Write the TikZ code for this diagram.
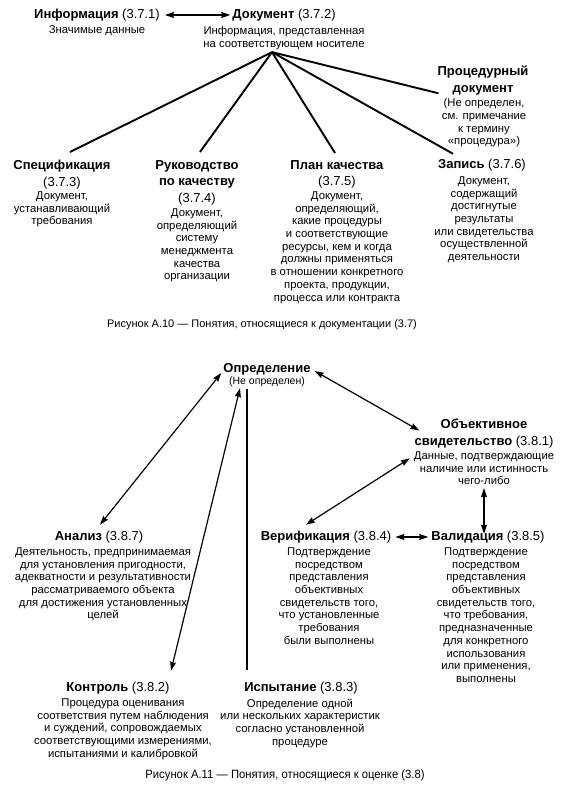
\documentclass[tikz,border=0pt]{standalone}
\usepackage{fontspec}
\setmainfont{Liberation Sans}
\newfontfamily\capnarrow[FakeStretch=0.94]{Liberation Sans}
\usetikzlibrary{arrows.meta}
\begin{document}
\begin{tikzpicture}[x=1pt,y=-1pt,
  ttl/.style={font=\fontsize{13}{16.5}\selectfont, inner sep=0pt, align=center},
  dsc/.style={font=\fontsize{11.3}{12.7}\selectfont, inner sep=0pt, align=center, anchor=north},
  capt/.style={font=\fontsize{11}{13}\selectfont, inner sep=0pt},
  fanline/.style={line width=1.9pt},
  dbl/.style={line width=1.2pt, {Stealth[length=9pt,width=6pt,inset=1pt]}-{Stealth[length=9pt,width=6pt,inset=1pt]}},
  vline/.style={line width=1.4pt}]
\useasboundingbox (0,0) rectangle (570,790);

% ---------- Figure A.10 ----------
\node[ttl] (infoT) at (97,15) {\textbf{Информация} (3.7.1)};
\node[dsc] (infoD) at (97,25.5) {Значимые данные};
\node[ttl] (docT) at (284,15) {\textbf{Документ} (3.7.2)};
\node[dsc] (docD) at (284,26.5) {Информация, представленная\\на соответствующем носителе};
\coordinate (docF) at ([xshift=-12pt,yshift=-2pt]docD.south);

\node[ttl,anchor=north] (procT) at (483,66) {\textbf{Процедурный}\\\textbf{документ}};
\node[dsc] (procD) at (484,98.5) {(Не определен,\\см. примечание\\к термину\\«процедура»)};

\node[ttl,anchor=north] (specT) at (62,160) {\textbf{Спецификация}\\(3.7.3)};
\node[dsc] (specD) at (62,191.5) {Документ,\\устанавливающий\\требования};

\node[ttl,anchor=north] (rukT) at (197,160) {\textbf{Руководство}\\\textbf{по качеству}\\(3.7.4)};
\node[dsc] (rukD) at (197,208.5) {Документ,\\определяющий\\систему\\менеджмента\\качества\\организации};

\node[ttl,anchor=north] (planT) at (337,160) {\textbf{План качества}\\(3.7.5)};
\node[dsc] (planD) at (337,191.5) {Документ,\\определяющий,\\какие процедуры\\и соответствующие\\ресурсы, кем и когда\\должны применяться\\в отношении конкретного\\проекта, продукции,\\процесса или контракта};

\node[ttl] (zapT) at (482,165) {\textbf{Запись} (3.7.6)};
\node[dsc] (zapD) at (484,176.5) {Документ,\\содержащий\\достигнутые\\результаты\\или свидетельства\\осуществленной\\деятельности};

\node[capt] (cap1) at (262,325) {Рисунок А.10 — Понятия, относящиеся к документации (3.7)};

\draw[dbl] ([xshift=5pt]infoT.east) -- ([xshift=-2pt]docT.west);
\draw[fanline] (docF) -- ([xshift=8pt,yshift=8pt]specT.north);
\draw[fanline] (docF) -- ([xshift=3pt,yshift=8pt]rukT.north);
\draw[fanline] (docF) -- ([xshift=-2pt,yshift=7pt]planT.north);
\draw[fanline] (docF) -- ([xshift=15pt,yshift=5pt]zapT.north west);
\draw[fanline] (docF) -- ([xshift=1pt,yshift=2pt]procT.south west);

% ---------- Figure A.11 ----------
\node[ttl] (opT) at (267,369) {\textbf{Определение}};
\node[dsc,font=\fontsize{10.5}{12}\selectfont] (opD) at (267,377) {(Не определен)};

\node[ttl,anchor=north] (objT) at (484,419) {\textbf{Объективное}\\\textbf{свидетельство} (3.8.1)};
\node[dsc] (objD) at (484,451.5) {Данные, подтверждающие\\наличие или истинность\\чего-либо};

\node[ttl] (anT) at (99,537) {\textbf{Анализ} (3.8.7)};
\node[dsc] (anD) at (103,547.5) {Деятельность, предпринимаемая\\для установления пригодности,\\адекватности и результативности\\рассматриваемого объекта\\для достижения установленных\\целей};

\node[ttl] (verT) at (326,537) {\textbf{Верификация} (3.8.4)};
\node[dsc] (verD) at (329,547.5) {Подтверждение\\посредством\\представления\\объективных\\свидетельств того,\\что установленные\\требования\\были выполнены};

\node[ttl] (valT) at (488,537) {\textbf{Валидация} (3.8.5)};
\node[dsc] (valD) at (486,547.5) {Подтверждение\\посредством\\представления\\объективных\\свидетельств того,\\что требования,\\предназначенные\\для конкретного\\использования\\или применения,\\выполнены};

\node[ttl] (konT) at (118,688) {\textbf{Контроль} (3.8.2)};
\node[dsc] (konD) at (123,698.5) {Процедура оценивания\\соответствия путем наблюдения\\и суждений, сопровождаемых\\соответствующими измерениями,\\испытаниями и калибровкой};

\node[ttl] (ispT) at (301,688) {\textbf{Испытание} (3.8.3)};
\node[dsc] (ispD) at (300,698.5) {Определение одной\\или нескольких характеристик\\согласно установленной\\процедуре};

\node[capt,font=\fontsize{12}{14}\selectfont] (cap2) at (285,775) {\capnarrow Рисунок А.11 — Понятия, относящиеся к оценке (3.8)};

\coordinate (ispTop) at ([xshift=-20pt,yshift=-2pt]opD.south);
\coordinate (ispEnd) at ([yshift=12pt]ispT.north);

\draw[dbl] ([xshift=-2pt,yshift=-4pt]opT.west) -- ([xshift=1pt,yshift=6pt]anT.north);
\draw[dbl] ([xshift=-27pt,yshift=-1pt]opD.south) -- ([xshift=53pt,yshift=11pt]konT.north);
\draw[vline] (ispTop) -- (ispTop |- ispEnd);
\draw[dbl] ([xshift=4pt,yshift=-2pt]opT.east) -- ([xshift=5pt,yshift=3pt]objT.west);
\draw[dbl] ([xshift=-20pt,yshift=6pt]verT.north) -- ([xshift=-4pt,yshift=10pt]objD.west);
\draw[dbl] ([yshift=-3pt]objD.south) -- ([yshift=-3pt]objD.south |- valT.north);
\draw[dbl] ([xshift=4pt]verT.east) -- ([xshift=-3pt]valT.west);
\end{tikzpicture}
\end{document}
